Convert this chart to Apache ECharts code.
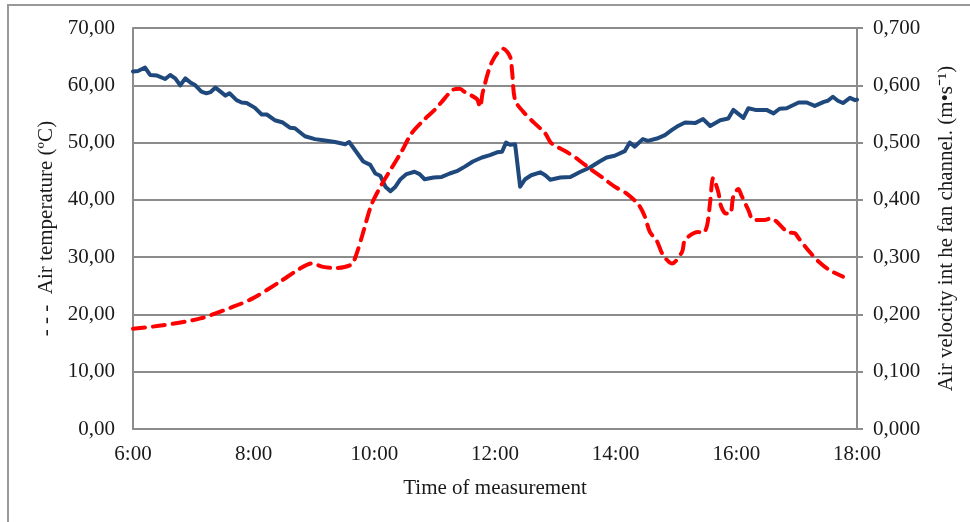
<!DOCTYPE html>
<html>
<head>
<meta charset="utf-8">
<script src="https://cdn.jsdelivr.net/npm/echarts@6/dist/echarts.min.js"></script>
<style>
html,body{margin:0;padding:0;background:#fff;}
#chart{width:970px;height:522px;}
</style>
</head>
<body>
<div id="chart"></div>
<script>
// Time in minutes since midnight
const xTicks = ['6:00','8:00','10:00','12:00','14:00','16:00','18:00'];

const velTime = [360,365,372,377,384,392,397,402,407,412,417,422,428,433,437,442,447,452,456,463,468,473,481,488,493,501,509,516,521,531,541,549,561,571,575,582,589,596,601,606,611,616,621,626,632,640,645,650,659,667,675,682,690,698,707,715,722,727,731,735,740,745,750,756,765,770,775,785,795,805,814,824,831,839,849,854,859,867,872,881,889,896,901,909,919,927,934,944,952,957,967,972,979,990,997,1003,1010,1022,1030,1038,1047,1051,1056,1061,1066,1073,1078,1080];
const velValue = [0.624,0.625,0.631,0.618,0.617,0.611,0.618,0.612,0.600,0.612,0.605,0.600,0.589,0.586,0.588,0.596,0.589,0.582,0.586,0.574,0.570,0.569,0.561,0.549,0.549,0.539,0.535,0.526,0.525,0.511,0.506,0.504,0.501,0.497,0.501,0.484,0.467,0.461,0.446,0.442,0.423,0.415,0.423,0.436,0.445,0.449,0.445,0.436,0.439,0.440,0.446,0.450,0.458,0.467,0.474,0.478,0.483,0.484,0.500,0.496,0.497,0.423,0.436,0.443,0.448,0.443,0.435,0.439,0.440,0.449,0.456,0.467,0.474,0.477,0.485,0.500,0.493,0.506,0.503,0.507,0.513,0.522,0.528,0.535,0.534,0.541,0.529,0.539,0.542,0.557,0.543,0.560,0.557,0.557,0.551,0.559,0.560,0.570,0.570,0.564,0.571,0.573,0.580,0.573,0.569,0.578,0.574,0.575];

const tempTime = [360,390,427,459,479,506,526,538,549,561,577,582,589,597,607,617,627,637,649,660,667,678,685,690,702,705,708,717,728,735,737,740,748,758,770,776,791,803,814,826,839,851,863,869,874,881,887,896,906,909,922,927,931,934,937,942,945,950,954,957,962,965,972,977,988,995,1000,1012,1018,1022,1033,1042,1053,1066];
const tempValue = [17.5,18.1,19.3,21.3,22.8,25.7,28.0,28.9,28.3,28.1,28.7,30.4,34.4,39.1,42.6,45.5,48.4,51.6,53.9,55.7,57.1,59.2,59.4,58.8,57.6,56.2,58.9,64.1,66.4,65.0,62.4,57.4,55.4,53.6,51.6,49.9,48.4,47.0,45.5,44.0,42.3,41.1,39.1,37.1,34.4,32.8,30.4,28.9,30.9,33.0,34.4,34.2,35.6,39.7,43.8,41.4,38.8,37.6,37.6,40.6,41.9,40.8,38.2,36.5,36.5,36.8,36.2,34.3,34.2,33.3,30.9,29.2,27.7,26.6];

const FONT = '"Liberation Serif","Times New Roman",serif';
const GRAY = '#8c8c8c';
const TXT = '#1a1a1a';
const FS = 21;

const chart = echarts.init(document.getElementById('chart'), null, {renderer:'canvas'});
chart.setOption({
  animation: false,
  backgroundColor: '#fff',
  graphic: [{
    type: 'rect',
    shape: {x: 8, y: 5, width: 1000, height: 600},
    style: {fill: 'none', stroke: '#999', lineWidth: 2},
    silent: true, z: -10
  }],
  grid: {left: 133, right: 113, top: 28, bottom: 93, containLabel: false},
  xAxis: {
    type: 'value', min: 360, max: 1080, interval: 120,
    name: 'Time of measurement', nameLocation: 'middle', nameGap: 49,
    nameTextStyle: {fontFamily: FONT, fontSize: FS, color: TXT},
    axisLine: {show: true, lineStyle: {color: GRAY, width: 2}},
    axisTick: {show: false},
    splitLine: {show: false},
    axisLabel: {fontFamily: FONT, fontSize: FS, color: TXT, margin: 15,
      formatter: v => xTicks[Math.round((v - 360) / 120)]}
  },
  yAxis: [{
    type: 'value', min: 0, max: 70, interval: 10, position: 'left',
    name: '- - -  Air temperature (ºC)', nameLocation: 'middle', nameGap: 74,
    nameTextStyle: {fontFamily: FONT, fontSize: FS, color: TXT},
    axisLine: {show: true, lineStyle: {color: GRAY, width: 2}},
    axisTick: {show: false},
    splitLine: {show: true, lineStyle: {color: GRAY, width: 2}},
    axisLabel: {fontFamily: FONT, fontSize: FS, color: TXT, margin: 18,
      formatter: v => v.toFixed(2).replace('.', ',')}
  }, {
    type: 'value', min: 0, max: 0.7, interval: 0.1, position: 'right',
    name: 'Air velocity int he fan channel. (m•s⁻¹)', nameLocation: 'middle', nameGap: 79,
    nameRotate: 90,
    nameTextStyle: {fontFamily: FONT, fontSize: FS, color: TXT},
    axisLine: {show: true, lineStyle: {color: GRAY, width: 2}},
    axisTick: {show: true, inside: false, length: 6, lineStyle: {color: GRAY, width: 2}},
    splitLine: {show: false},
    axisLabel: {fontFamily: FONT, fontSize: FS, color: TXT, margin: 16,
      formatter: v => v.toFixed(3).replace('.', ',')}
  }],
  series: [{
    type: 'line', yAxisIndex: 1, showSymbol: false, symbol: 'none',
    data: velTime.map((t, i) => [t, velValue[i]]),
    lineStyle: {color: '#1F497D', width: 4, join: 'round', cap: 'round'}
  }, {
    type: 'line', yAxisIndex: 0, showSymbol: false, symbol: 'none', smooth: 0.3,
    data: tempTime.map((t, i) => [t, tempValue[i]]),
    lineStyle: {color: '#FF0000', width: 4, type: [12, 8], cap: 'round'}
  }]
});
</script>
</body>
</html>
